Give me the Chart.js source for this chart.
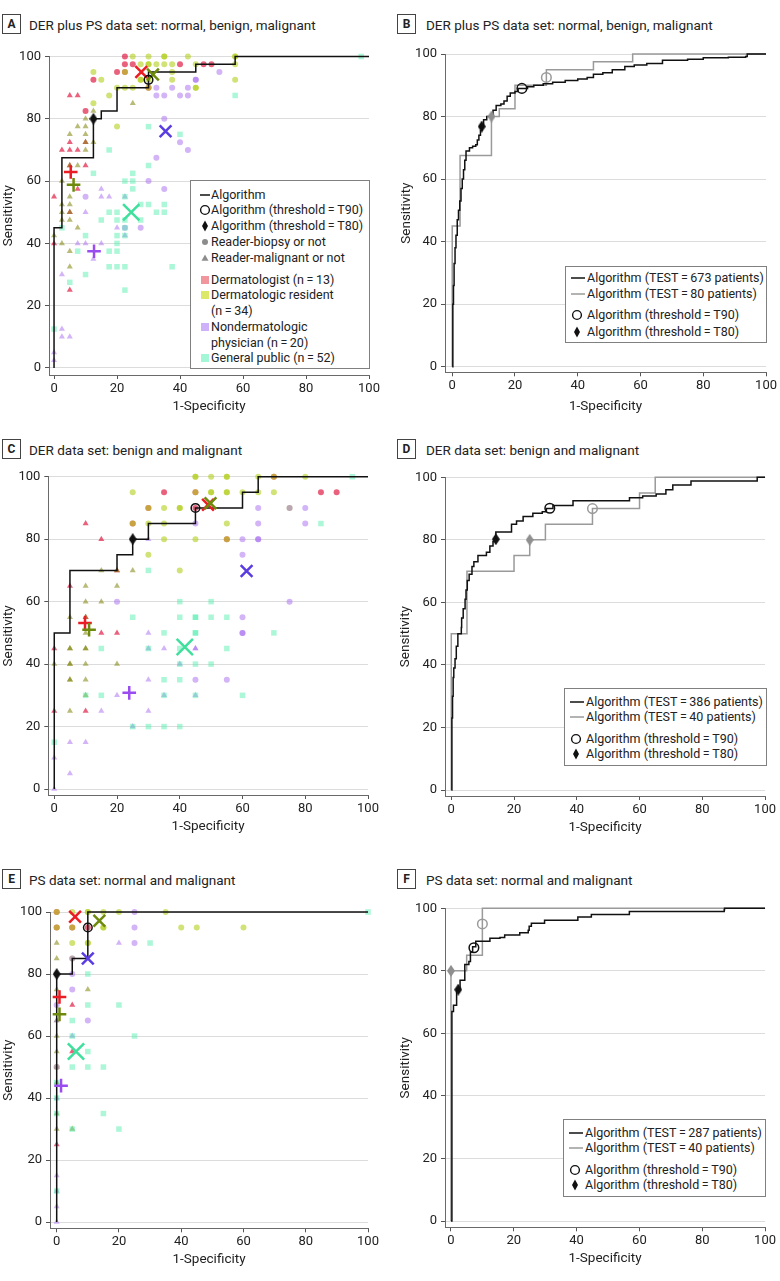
<!DOCTYPE html>
<html><head><meta charset="utf-8">
<script src="https://cdn.jsdelivr.net/npm/chart.js@4.4.1/dist/chart.umd.min.js"></script>
<style>
body{margin:0;background:#fff;width:780px;height:1281px;position:relative;overflow:hidden;font-family:Roboto,'Noto Sans',sans-serif;color:#222}
canvas{position:absolute}
.pbox{position:absolute;box-sizing:border-box;width:19px;height:20px;border:1px solid #444;font-weight:bold;font-size:12px;line-height:18px;text-align:center}
.ptitle{position:absolute;font-size:13.5px;white-space:nowrap;line-height:20px}
.legend{position:absolute;box-sizing:border-box;border:1px solid #808080;background:#fff}
.li{position:absolute;white-space:nowrap;font-size:12.5px;line-height:14px}
.sym{position:absolute;width:16px;height:14px}
.sym svg{display:block}
</style>
</head><body>
<script>
// ---------------- DATA ----------------
const tickValues = [0, 20, 40, 60, 80, 100];
const xAxisTitle = '1-Specificity';
const yAxisTitle = 'Sensitivity';
const panelLetters = ['A', 'B', 'C', 'D', 'E', 'F'];
const panelTitles = [
  'DER plus PS data set: normal, benign, malignant',
  'DER plus PS data set: normal, benign, malignant',
  'DER data set: benign and malignant',
  'DER data set: benign and malignant',
  'PS data set: normal and malignant',
  'PS data set: normal and malignant'
];
const readerLegendLabels = ['Algorithm', 'Algorithm (threshold\u2009=\u2009T90)', 'Algorithm (threshold\u2009=\u2009T80)',
  'Reader-biopsy or not', 'Reader-malignant or not', 'Dermatologist (n\u2009=\u200913)', 'Dermatologic resident',
  '(n\u2009=\u200934)', 'Nondermatologic', 'physician (n\u2009=\u200920)', 'General public (n\u2009=\u200952)'];
const rocLegendB = ['Algorithm (TEST\u2009=\u2009673 patients)', 'Algorithm (TEST\u2009=\u200980 patients)'];
const rocLegendD = ['Algorithm (TEST\u2009=\u2009386 patients)', 'Algorithm (TEST\u2009=\u200940 patients)'];
const rocLegendF = ['Algorithm (TEST\u2009=\u2009287 patients)', 'Algorithm (TEST\u2009=\u200940 patients)'];
const thresholdLabels = ['Algorithm (threshold\u2009=\u2009T90)', 'Algorithm (threshold\u2009=\u2009T80)'];

// Panel A (DER plus PS, readers)
const aAlgorithm = [[0,0],[0,45],[2.5,67.5],[12.5,80],[15,82.5],[20,90],[30,95],[45,97.5],[57.5,100],[100,100]];
const aT90 = [[30,92.5]];
const aT80 = [[12.5,80]];
const aDermBiopsy = [[22.5,100],[22.5,97.5],[25,97.5],[40,97.5],[47.5,97.5],[50,97.5],[20,95],[22.5,95],[12.5,92.5],[10,82.5],[30,90]];
const aDermMalig = [[5,87.5],[7.5,87.5],[5,72.5],[10,72.5],[2.5,70],[5,70],[7.5,70],[5,65],[10,65],[7.5,57.5],[0,55],[5,50],[0,40],[5,25]];
const aResBiopsy = [[25,100],[30,100],[35,100],[35,100],[42.5,100],[57.5,100],[57.5,100],[27.5,97.5],[30,97.5],[30,97.5],[32.5,97.5],[35,97.5],[37.5,97.5],[45,97.5],[57.5,97.5],
  [12.5,95],[22.5,95],[37.5,95],[15,92.5],[27.5,92.5],[27.5,92.5],[30,92.5],[37.5,92.5],[57.5,92.5],[20,90],[22.5,90],[25,90],[30,90],[45,90],[45,90],[17.5,87.5],[12.5,85],[20,77.5]];
const aResMalig = [[12.5,82.5],[10,80],[7.5,77.5],[10,77.5],[5,75],[10,75],[10,72.5],[12.5,72.5],[10,70],[25,85],[5,65],[7.5,65],[2.5,60],[5,55],[2.5,52.5],[5,52.5],
  [2.5,50],[5,50],[2.5,47.5],[5,47.5],[7.5,45],[0,42.5],[2.5,40],[5,37.5],[5,32.5]];
const aNondermBiopsy = [[52.5,95],[45,92.5],[45,92.5],[32.5,90],[37.5,90],[42.5,90],[32.5,87.5],[35,87.5],[40,87.5],[42.5,87.5],[35,80],[40,72.5],[42.5,70],[32.5,67.5],
  [30,60],[35,57.5],[10,55],[27.5,45],[22.5,45]];
const aNondermMalig = [[15,57.5],[15,55],[17.5,55],[22.5,55],[10,50],[20,45],[22.5,42.5],[7.5,40],[10,40],[15,40],[12.5,35],[2.5,30],[2.5,12.5],[2.5,10],[5,10],[0,5],[0,2.5]];
const aPublic = [[97.5,100],[57.5,87.5],[30,77.5],[40,75],[17.5,70],[30,65],[12.5,62.5],[25,62.5],[22.5,60],[25,60],[25,57.5],[22.5,55],[27.5,52.5],[30,52.5],[35,52.5],
  [17.5,50],[20,50],[32.5,50],[35,50],[15,47.5],[20,47.5],[22.5,47.5],[27.5,47.5],[2.5,45],[22.5,45],[10,42.5],[20,42.5],[22.5,42.5],[20,40],[7.5,37.5],[17.5,37.5],[20,37.5],
  [17.5,32.5],[20,32.5],[22.5,32.5],[37.5,32.5],[10,30],[5,27.5],[22.5,25],[0,12.5]];
const aDermX = [[27.7,95]];
const aDermPlus = [[5.3,62.9]];
const aResX = [[31.4,94.2]];
const aResPlus = [[6.2,58.8]];
const aNondermX = [[35.4,76]];
const aNondermPlus = [[12.7,37.5]];
const aPublicX = [[24.5,50]];

// Panel B (DER plus PS, ROC)
const bTest673 = [[0,0],[0.2,20],[0.4,26],[0.6,33],[0.9,38],[1.2,42],[1.6,47],[2,50],[2.4,53],[2.8,57],[3.2,60],[3.6,63],[4,66],[4.4,69],[5.5,70],[6.5,70.5],[7.5,71],
  [8,72.5],[8.5,74],[9,75.5],[9.5,77],[10,79],[11,80],[12.5,80.5],[13,82],[14,83.5],[15.5,84],[16.5,85],[17.5,86.5],[18.5,87.5],[20,88],[21,89],[24,89.5],[26,90],
  [29,90.5],[32,91],[36,91.5],[40,92],[43,92.5],[45,93.5],[48,94],[51,95],[55,96],[58,96.5],[62,97],[67,98],[75,98.3],[80,98.8],[88,99],[93.5,99.2],[94,100],[100,100]];
const bTest80 = aAlgorithm;
const bT90Black = [[22.2,89]];
const bT80Black = [[9.4,76.8]];
const bT90Gray = [[30,92.5]];
const bT80Gray = [[12.5,80]];

// Panel C (DER, readers)
const cAlgorithm = [[0,0],[0,50],[5,70],[20,75],[25,80],[30,85],[45,90],[60,95],[65,100],[100,100]];
const cT90 = [[45,90]];
const cT80 = [[25,80]];
const cDermBiopsy = [[35,95],[85,95],[90,95],[45,90],[25,85],[70,100],[45,95],[30,90],[55,80]];
const cDermMalig = [[10,85],[15,80],[5,65],[20,70],[10,55],[15,50],[20,50],[0,45],[0,25],[10,25]];
const cResBiopsy = [[45,100],[45,100],[50,100],[55,100],[55,100],[65,100],[70,100],[80,100],[25,95],[45,95],[50,95],[50,95],[55,95],[55,95],[60,95],[65,95],[70,95],
  [30,90],[35,90],[40,90],[40,90],[75,90],[25,85],[30,85],[35,85],[55,85],[35,80],[45,80],[55,80],[30,75],[40,70]];
const cResMalig = [[15,70],[20,70],[25,70],[10,65],[20,65],[10,60],[15,60],[5,55],[10,55],[10,50],[5,45],[5,45],[10,45],[10,45],[0,40],[5,40],[5,40],[10,40],[20,40],
  [5,35],[5,35],[10,35],[10,30],[5,25]];
const cNondermBiopsy = [[65,90],[75,90],[80,90],[45,85],[65,85],[80,85],[60,80],[65,80],[65,80],[60,75],[20,60],[75,60],[60,55],[60,50],[60,50],[45,35],[55,35]];
const cNondermMalig = [[30,80],[30,50],[30,45],[35,45],[45,45],[45,45],[40,40],[30,35],[20,30],[35,30],[45,30],[15,25],[30,25],[25,20],[5,15],[10,15],[0,10],[5,5],[0,0]];
const cPublic = [[95,100],[85,85],[30,70],[40,60],[50,60],[25,55],[40,55],[45,55],[45,55],[50,55],[55,55],[35,50],[45,50],[45,50],[70,50],[15,45],[30,45],[40,45],[55,45],
  [40,40],[45,40],[50,40],[35,35],[40,35],[10,30],[15,30],[35,30],[45,30],[60,30],[25,20],[30,20],[35,20],[40,20],[0,15]];
const cDermX = [[49,91]];
const cDermPlus = [[9.8,53.2]];
const cResX = [[49.8,91.5]];
const cResPlus = [[11.1,51]];
const cNondermX = [[61.3,69.8]];
const cNondermPlus = [[23.9,30.8]];
const cPublicX = [[41.6,45.5]];

// Panel D (DER, ROC)
const dTest386 = [[0,0],[0.2,23],[0.4,30],[0.6,36],[0.8,39],[1.2,42],[1.6,46],[2.1,50],[3.2,52],[3.3,55],[3.8,58],[4.4,61],[4.7,64],[5.1,67],[5.7,69],[6.6,71.5],
  [7.2,73],[8.5,75],[11.2,76],[12.3,78],[13.3,79.5],[14,81],[14.2,82.5],[19.2,85],[20.8,86],[22.9,87.5],[26,88.5],[29,89],[30.3,90],[32.4,91],[38.8,92.5],
  [56.8,93.5],[61,94],[65.3,94.7],[68.4,96],[70.6,97.5],[76.4,98.8],[97.5,100],[100,100]];
const dTest40 = cAlgorithm;
const dT90Black = [[31.4,90.1]];
const dT80Black = [[14.2,80.2]];
const dT90Gray = [[45,90]];
const dT80Gray = [[25,80]];

// Panel E (PS, readers)
const eAlgorithm = [[0,0],[0,80],[5,85],[10,100],[100,100]];
const eT90 = [[10,95]];
const eT80 = [[0,80]];
const eDermBiopsy = [[0,100],[0,95],[5,95],[10,95]];
const eDermMalig = [[5,70],[5,55],[0,25]];
const eResBiopsy = [[0,100],[5,100],[10,100],[10,100],[15,100],[20,100],[35,100],[0,95],[5,95],[15,95],[15,95],[40,95],[45,95],[60,95],[5,90],[10,90],[10,90],[5,85],[0,50]];
const eResMalig = [[0,90],[0,85],[0,75],[10,75],[0,65],[0,60],[0,55],[0,45],[0,35],[0,30],[5,30],[0,50]];
const eNondermBiopsy = [[25,100],[25,95],[25,90],[5,85],[5,80],[5,75],[0,70],[10,65],[0,50]];
const eNondermMalig = [[20,90],[0,65],[5,60],[0,40],[0,15],[0,10],[0,5],[0,0]];
const ePublic = [[100,100],[30,90],[10,80],[10,70],[20,70],[5,65],[25,60],[10,55],[5,50],[10,50],[15,50],[15,35],[20,30],[0,40],[0,10],[5,60],[0,45],[5,30],[0,35]];
const eDermX = [[5.9,98.5]];
const eDermPlus = [[0.9,72.6]];
const eResX = [[13.7,97.2]];
const eResPlus = [[0.9,67]];
const eNondermX = [[10,85]];
const eNondermPlus = [[1.4,44]];
const ePublicX = [[6.2,55]];

// Panel F (PS, ROC)
const fTest287 = [[0,0],[0.3,67],[0.8,69],[1.8,74],[2.9,77],[4.4,82],[5.7,83],[6.2,86],[6.9,87.7],[7.9,89.5],[12.4,90.4],[15.6,90.7],[17.1,91.5],[21.9,92.2],
  [24.6,93],[24.9,94.3],[25.6,95.2],[29.8,96.2],[40.4,97.2],[44.7,98],[56.8,99],[87,99.5],[87.1,100],[100,100]];
const fTest40 = eAlgorithm;
const fT90Black = [[7.3,87.4]];
const fT80Black = [[2.3,74]];
const fT90Gray = [[10,95]];
const fT80Gray = [[0,80]];

// ---------------- STYLE ----------------
const FAMILY = "Roboto, 'Noto Sans', sans-serif";
const RED = 'rgba(222,22,62,0.68)';
const YG = 'rgba(178,206,28,0.6)';
const OLIVE = 'rgba(128,132,10,0.55)';
const PURPLE = 'rgba(165,105,240,0.5)';
const TEAL = 'rgba(70,238,168,0.45)';
const M_RED = '#ea1d25', M_OLIVE = '#6e8a0c', M_PURPLE = '#9b4cf0', M_BLUE = '#5a3ce0', M_TEAL = '#3ee09c';
const BLACK = '#111', GRAY = '#9a9a9a';

function pts(a) { return a.map(p => ({x: p[0], y: p[1]})); }
function diamondImg(color) {
  const c = document.createElement('canvas'); c.width = 8; c.height = 12;
  const g = c.getContext('2d'); g.fillStyle = color; g.beginPath();
  g.moveTo(4, 0); g.lineTo(8, 6); g.lineTo(4, 12); g.lineTo(0, 6); g.closePath(); g.fill();
  return c;
}
const DIA_BLACK = diamondImg(BLACK), DIA_GRAY = diamondImg('#8f8f8f');

function scatterSet(arr, style, color, r) {
  return {data: pts(arr), pointStyle: style, pointRadius: r, pointHoverRadius: r, backgroundColor: color, borderWidth: 0, showLine: false, clip: false, order: 20};
}
function meanSet(arr, style, color, r) {
  return {data: pts(arr), pointStyle: style, pointRadius: r, pointHoverRadius: r, backgroundColor: color, borderColor: color, borderWidth: 2.5, showLine: false, clip: false, order: 5};
}
function lineSet(arr, color, order) {
  return {data: pts(arr), showLine: true, stepped: 'before', borderColor: color, borderWidth: 1.5, pointRadius: 0, pointHoverRadius: 0, fill: false, clip: false, order: order};
}
function circleSet(arr, color, r) {
  return {data: pts(arr), pointStyle: 'circle', pointRadius: r, pointHoverRadius: r, backgroundColor: 'rgba(0,0,0,0)', borderColor: color, borderWidth: 1.5, showLine: false, clip: false, order: 1};
}
function diamondSet(arr, img) {
  return {data: pts(arr), pointStyle: img, pointRadius: 5, pointHoverRadius: 5, showLine: false, clip: false, order: 1};
}
function readerSets(d) {
  return [
    scatterSet(d.public, 'rect', TEAL, 3.9),
    scatterSet(d.nondermB, 'circle', PURPLE, 3), scatterSet(d.nondermM, 'triangle', PURPLE, 3.5),
    scatterSet(d.resB, 'circle', YG, 3), scatterSet(d.resM, 'triangle', OLIVE, 3.5),
    scatterSet(d.dermB, 'circle', RED, 3), scatterSet(d.dermM, 'triangle', RED, 3.5),
    lineSet(d.alg, BLACK, 10),
    meanSet(d.publicX, 'crossRot', M_TEAL, 11.5),
    meanSet(d.nondermX, 'crossRot', M_BLUE, 8.3), meanSet(d.nondermP, 'cross', M_PURPLE, 6.8),
    meanSet(d.resX, 'crossRot', M_OLIVE, 8.3), meanSet(d.resP, 'cross', M_OLIVE, 6.8),
    meanSet(d.dermX, 'crossRot', M_RED, 8.3), meanSet(d.dermP, 'cross', M_RED, 6.8),
    circleSet(d.t90, BLACK, 4.3), diamondSet(d.t80, DIA_BLACK)
  ];
}
function rocSets(d) {
  return [
    lineSet(d.gray, GRAY, 12), lineSet(d.black, BLACK, 10),
    circleSet(d.t90g, GRAY, 4.8), diamondSet(d.t80g, DIA_GRAY),
    circleSet(d.t90b, BLACK, 4.8), diamondSet(d.t80b, DIA_BLACK)
  ];
}

function makePanel(L, datasets) {
  const c = document.createElement('canvas');
  c.width = L.w; c.height = L.h;
  c.style.left = L.x + 'px'; c.style.top = L.y + 'px';
  c.style.width = L.w + 'px'; c.style.height = L.h + 'px';
  document.body.appendChild(c);
  const tickFont = {family: FAMILY, size: 13};
  const titleFont = {family: FAMILY, size: 13.5};
  new Chart(c, {
    type: 'scatter',
    data: {datasets: datasets},
    options: {
      responsive: false, animation: false, devicePixelRatio: 1,
      layout: {padding: {top: L.padTop, right: L.padRight, left: 0, bottom: 0}},
      plugins: {legend: {display: false}, tooltip: {enabled: false}},
      events: [],
      scales: {
        x: {
          type: 'linear', min: L.xmin, max: 100,
          afterBuildTicks: s => { s.ticks = tickValues.map(v => ({value: v})); },
          afterFit: s => { s.height = L.xAxisH; },
          grid: {drawOnChartArea: false, drawTicks: true, tickLength: 4, tickColor: '#555', color: '#555'},
          border: {display: true, color: '#6a6a6a', width: 1},
          ticks: {autoSkip: false, maxRotation: 0, padding: 2, color: '#222', font: tickFont},
          title: {display: true, text: xAxisTitle, color: '#222', font: titleFont, padding: {top: 0, bottom: 0}}
        },
        y: {
          type: 'linear', min: L.ymin, max: 100,
          afterBuildTicks: s => { s.ticks = tickValues.map(v => ({value: v})); },
          afterFit: s => { s.width = L.yAxisW; },
          grid: {drawOnChartArea: true, drawTicks: true, tickLength: 4, tickColor: '#555', color: '#dcdcdc', lineWidth: 1},
          border: {display: true, color: '#6a6a6a', width: 1},
          ticks: {autoSkip: false, padding: 4, color: '#222', font: tickFont},
          title: {display: true, text: yAxisTitle, color: '#222', font: titleFont, padding: {top: 1, bottom: 0}}
        }
      }
    }
  });
}

// ---------------- LAYOUT ----------------
const layouts = [
  {x: 0,   y: 40,  w: 383, h: 375, padTop: 16.5, padRight: 14,   yAxisW: 49,   xAxisH: 40,   xmin: -1.6,  ymin: -2.25},
  {x: 398, y: 40,  w: 381, h: 375, padTop: 14,   padRight: 12,   yAxisW: 47,   xAxisH: 42.7, xmin: -2.3,  ymin: -1.8},
  {x: 0,   y: 460, w: 382, h: 375, padTop: 16.7, padRight: 13.7, yAxisW: 48.3, xAxisH: 40,   xmin: -1.9,  ymin: -1.9},
  {x: 397, y: 460, w: 381, h: 376, padTop: 17.3, padRight: 12,   yAxisW: 48,   xAxisH: 40,   xmin: -2.0,  ymin: -1.9},
  {x: 0,   y: 890, w: 382, h: 378, padTop: 22,   padRight: 13.7, yAxisW: 50,   xAxisH: 39.7, xmin: -2.15, ymin: -2.0},
  {x: 397, y: 890, w: 381, h: 377, padTop: 18.3, padRight: 12,   yAxisW: 48,   xAxisH: 39.7, xmin: -1.9,  ymin: -2.0}
];
const titlePos = [[2,14,29],[397,14,426],[2,439,29],[397,439,426],[2,869,29],[397,869,426]];

makePanel(layouts[0], readerSets({alg: aAlgorithm, t90: aT90, t80: aT80, dermB: aDermBiopsy, dermM: aDermMalig, resB: aResBiopsy, resM: aResMalig,
  nondermB: aNondermBiopsy, nondermM: aNondermMalig, public: aPublic, dermX: aDermX, dermP: aDermPlus, resX: aResX, resP: aResPlus,
  nondermX: aNondermX, nondermP: aNondermPlus, publicX: aPublicX}));
makePanel(layouts[1], rocSets({black: bTest673, gray: bTest80, t90b: bT90Black, t80b: bT80Black, t90g: bT90Gray, t80g: bT80Gray}));
makePanel(layouts[2], readerSets({alg: cAlgorithm, t90: cT90, t80: cT80, dermB: cDermBiopsy, dermM: cDermMalig, resB: cResBiopsy, resM: cResMalig,
  nondermB: cNondermBiopsy, nondermM: cNondermMalig, public: cPublic, dermX: cDermX, dermP: cDermPlus, resX: cResX, resP: cResPlus,
  nondermX: cNondermX, nondermP: cNondermPlus, publicX: cPublicX}));
makePanel(layouts[3], rocSets({black: dTest386, gray: dTest40, t90b: dT90Black, t80b: dT80Black, t90g: dT90Gray, t80g: dT80Gray}));
makePanel(layouts[4], readerSets({alg: eAlgorithm, t90: eT90, t80: eT80, dermB: eDermBiopsy, dermM: eDermMalig, resB: eResBiopsy, resM: eResMalig,
  nondermB: eNondermBiopsy, nondermM: eNondermMalig, public: ePublic, dermX: eDermX, dermP: eDermPlus, resX: eResX, resP: eResPlus,
  nondermX: eNondermX, nondermP: eNondermPlus, publicX: ePublicX}));
makePanel(layouts[5], rocSets({black: fTest287, gray: fTest40, t90b: fT90Black, t80b: fT80Black, t90g: fT90Gray, t80g: fT80Gray}));

// Titles
panelLetters.forEach((L, i) => {
  const [bx, by, tx] = titlePos[i];
  const b = document.createElement('div'); b.className = 'pbox'; b.style.left = bx + 'px'; b.style.top = by + 'px'; b.textContent = L;
  document.body.appendChild(b);
  const t = document.createElement('div'); t.className = 'ptitle'; t.style.left = tx + 'px'; t.style.top = (by + 0.5) + 'px'; t.textContent = panelTitles[i];
  document.body.appendChild(t);
});

// Legend symbols
const SYM = {
  ocircle: c => `<svg width="16" height="14"><circle cx="8" cy="7" r="4.4" fill="none" stroke="${c}" stroke-width="1.4"/></svg>`,
  diamond: c => `<svg width="16" height="14"><polygon points="8,1.5 11,7 8,12.5 5,7" fill="${c}"/></svg>`,
  dot: c => `<svg width="16" height="14"><circle cx="8" cy="7" r="3" fill="${c}"/></svg>`,
  tri: c => `<svg width="16" height="14"><polygon points="8,3.5 11.5,9.8 4.5,9.8" fill="${c}"/></svg>`,
  square: c => `<svg width="16" height="14"><rect x="4" y="3" width="8" height="8" fill="${c}"/></svg>`
};
function addLegend(box, items) {
  const d = document.createElement('div'); d.className = 'legend';
  d.style.left = box.x + 'px'; d.style.top = box.y + 'px'; d.style.width = box.w + 'px'; d.style.height = box.h + 'px';
  items.forEach(it => {
    if (it.sym) {
      const s = document.createElement('div'); s.className = 'sym';
      s.style.left = (it.sx - 8) + 'px'; s.style.top = (it.cy - 7) + 'px';
      if (it.sym === 'line') { s.style.width = it.lw + 'px'; s.innerHTML = `<svg width="${it.lw}" height="14"><line x1="0" y1="7" x2="${it.lw}" y2="7" stroke="${it.color}" stroke-width="1.5"/></svg>`; s.style.left = it.sx + 'px'; }
      else s.innerHTML = SYM[it.sym](it.color);
      d.appendChild(s);
    }
    const r = document.createElement('div'); r.className = 'li';
    r.style.left = box.tx + 'px'; r.style.top = (it.cy - 7) + 'px'; r.textContent = it.text;
    d.appendChild(r);
  });
  document.body.appendChild(d);
}
const LG = readerLegendLabels;
addLegend({x: 190, y: 180, w: 180, h: 189, tx: 20}, [
  {sym: 'line', color: BLACK, sx: 9, lw: 10, cy: 14, text: LG[0]},
  {sym: 'ocircle', color: BLACK, sx: 14, cy: 29, text: LG[1]},
  {sym: 'diamond', color: BLACK, sx: 14, cy: 45, text: LG[2]},
  {sym: 'dot', color: '#8c8c8c', sx: 14, cy: 61, text: LG[3]},
  {sym: 'tri', color: '#8c8c8c', sx: 14, cy: 77, text: LG[4]},
  {sym: 'square', color: 'rgba(232,80,90,0.6)', sx: 14, cy: 99, text: LG[5]},
  {sym: 'square', color: 'rgba(205,222,40,0.7)', sx: 14, cy: 114, text: LG[6]},
  {cy: 130, text: LG[7]},
  {sym: 'square', color: 'rgba(175,125,245,0.6)', sx: 14, cy: 146, text: LG[8]},
  {cy: 162, text: LG[9]},
  {sym: 'square', color: 'rgba(90,240,180,0.55)', sx: 14, cy: 177, text: LG[10]}
]);
function rocLegend(box, labels, cys) {
  addLegend(box, [
    {sym: 'line', color: BLACK, sx: 5, lw: 14, cy: cys[0], text: labels[0]},
    {sym: 'line', color: GRAY, sx: 5, lw: 14, cy: cys[1], text: labels[1]},
    {sym: 'ocircle', color: BLACK, sx: 11, cy: cys[2], text: thresholdLabels[0]},
    {sym: 'diamond', color: BLACK, sx: 11, cy: cys[3], text: thresholdLabels[1]}
  ]);
}
rocLegend({x: 565, y: 266, w: 202, h: 77, tx: 21}, rocLegendB, [11, 27, 48, 65]);
rocLegend({x: 564, y: 688, w: 203, h: 78, tx: 21}, rocLegendD, [13, 28, 50, 65]);
rocLegend({x: 563, y: 1119, w: 203, h: 78, tx: 21}, rocLegendF, [12.5, 27.5, 50, 65]);
</script>
</body></html>
